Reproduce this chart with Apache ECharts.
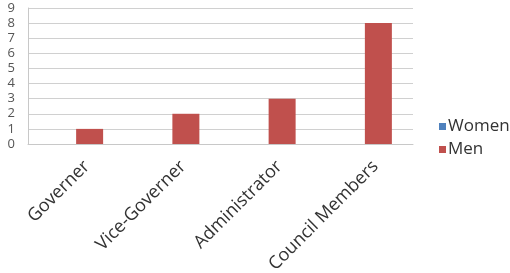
<!DOCTYPE html>
<html><head><meta charset="utf-8">
<script src="https://cdn.jsdelivr.net/npm/echarts@6/dist/echarts.min.js"></script>
<style>html,body{margin:0;padding:0;background:#fff}#c{width:510px;height:273px}</style>
</head><body><div id="c"></div>
<script>
var categories = ["Governer", "Vice-Governer", "Administrator", "Council Members"];
var women = [0, 0, 0, 0];
var men = [1, 2, 3, 8];
var yTicks = [0, 1, 2, 3, 4, 5, 6, 7, 8, 9];

var chart = echarts.init(document.getElementById('c'));
chart.setOption({
  animation: false,
  grid: {left: 28, top: 8, right: 97, bottom: 129, containLabel: false, outerBoundsMode: 'none'},
  legend: {
    orient: 'vertical', left: 434, top: 113, itemWidth: 7, itemHeight: 7, itemGap: 6,
    icon: 'rect',
    textStyle: {fontFamily: 'Open Sans', fontSize: 17, color: '#333', padding: [0,0,0,-3]},
    data: ['Women', 'Men']
  },
  xAxis: {
    type: 'category', data: categories,
    axisLine: {show: true, lineStyle: {color: '#c8c8c8'}},
    axisTick: {show: false},
    axisLabel: {rotate: 45, fontFamily: 'Open Sans', fontSize: 18, color: '#333', margin: 9, interval: 0,
      lineHeight: 30, formatter: function (v) { return '\n' + v; }}
  },
  yAxis: {
    type: 'value', min: yTicks[0], max: yTicks[yTicks.length-1], interval: 1,
    axisLine: {show: true, lineStyle: {color: '#c8c8c8'}},
    axisTick: {show: false},
    splitLine: {lineStyle: {color: '#d0d0d0'}},
    axisLabel: {fontFamily: 'Open Sans', fontSize: 13, color: '#555', margin: 13}
  },
  series: [
    {name: 'Women', type: 'bar', data: women, barWidth: 27, barGap: '0%', itemStyle: {color: '#4F81BD'}},
    {name: 'Men', type: 'bar', data: men, barWidth: 27, barGap: '0%', itemStyle: {color: '#C0504D'}}
  ]
});
</script></body></html>
